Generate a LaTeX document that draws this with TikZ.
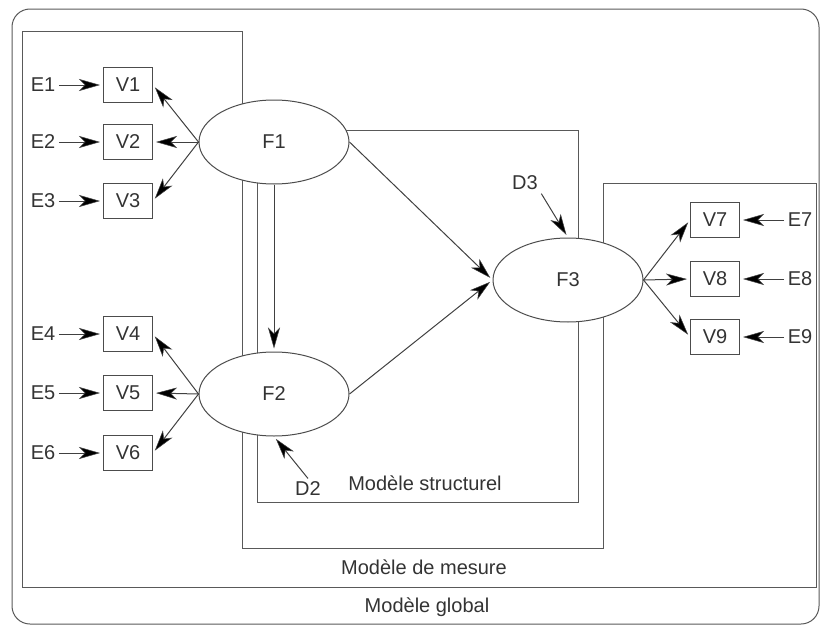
\documentclass[tikz,border=0pt]{standalone}
\usepackage{fontspec}
\setmainfont{Liberation Sans}
\usetikzlibrary{arrows.meta,shapes.geometric}

\tikzset{
  obsbox/.style={draw=black!70, line width=1pt, minimum width=49pt, minimum height=35pt, inner sep=0pt},
  latent/.style={ellipse, draw=black!70, line width=1pt, fill=white, minimum width=150pt, minimum height=84pt, inner sep=0pt},
  arr/.style={-{Stealth[length=21pt,width=12pt,inset=6pt,fill=black,line width=0.5pt]}, black!75, line width=1pt, shorten >=3pt},
  frame/.style={black!65, line width=1pt}
}

\begin{document}
\begin{tikzpicture}[x=1pt,y=-1pt,font=\fontsize{20}{24}\selectfont,text=black!80]
    \useasboundingbox (0,0) rectangle (820,629);

    % Global model
    \draw[frame,rounded corners=18pt] (12,9) rectangle (819,624);
    \node (global) at (427,607) {Modèle global};

    % Measurement model
    \draw[frame] (22,31) -- (242,31) -- (242,548) -- (603,548) -- (603,183)
        -- (816,183) -- (816,587) -- (22,587) -- cycle;
    \node (mesure) at (424,567) {Modèle de mesure};

    % Structural model
    \draw[frame] (257,130) rectangle (578,502);
    \node (struct) at (425,483) {Modèle structurel};

    % Latent factors
    \node[latent] (f1) at (274,142) {F1};
    \node[latent] (f2) at (274,394) {F2};
    \node[latent] (f3) at (568,280) {F3};

    % Indicators and their errors
    \foreach \i/\y in {1/85,2/142,3/201,4/334,5/393,6/453} {
        \node[obsbox] (v\i) at (128,\y) {V\i};
        \node (e\i) at (43,\y) {E\i};
        \draw[arr] (e\i) -- (v\i);
    }
    \foreach \i/\y in {7/220,8/279,9/337} {
        \node[obsbox] (v\i) at (715,\y) {V\i};
        \node (e\i) at (800,\y) {E\i};
        \draw[arr] (e\i) -- (v\i);
    }

    % Loadings
    \foreach \i in {1,2,3} \draw[arr] (f1.west) -- (v\i.east);
    \foreach \i in {4,5,6} \draw[arr] (f2.west) -- (v\i.east);
    \foreach \i in {7,8,9} \draw[arr] (f3.east) -- (v\i.west);

    % Structural paths
    \draw[arr] (f1.south) -- (f2.north);
    \draw[arr] (f1.east) -- (f3.west);
    \draw[arr] (f2.east) -- (f3.west);

    % Disturbances
    \node (d2) at (308,489) {D2};
    \node (d3) at (525,183) {D3};
    \draw[arr] (d2.north) -- (f2.south);
    \draw[arr] (d3.south east) -- (f3.north);
\end{tikzpicture}
\end{document}
